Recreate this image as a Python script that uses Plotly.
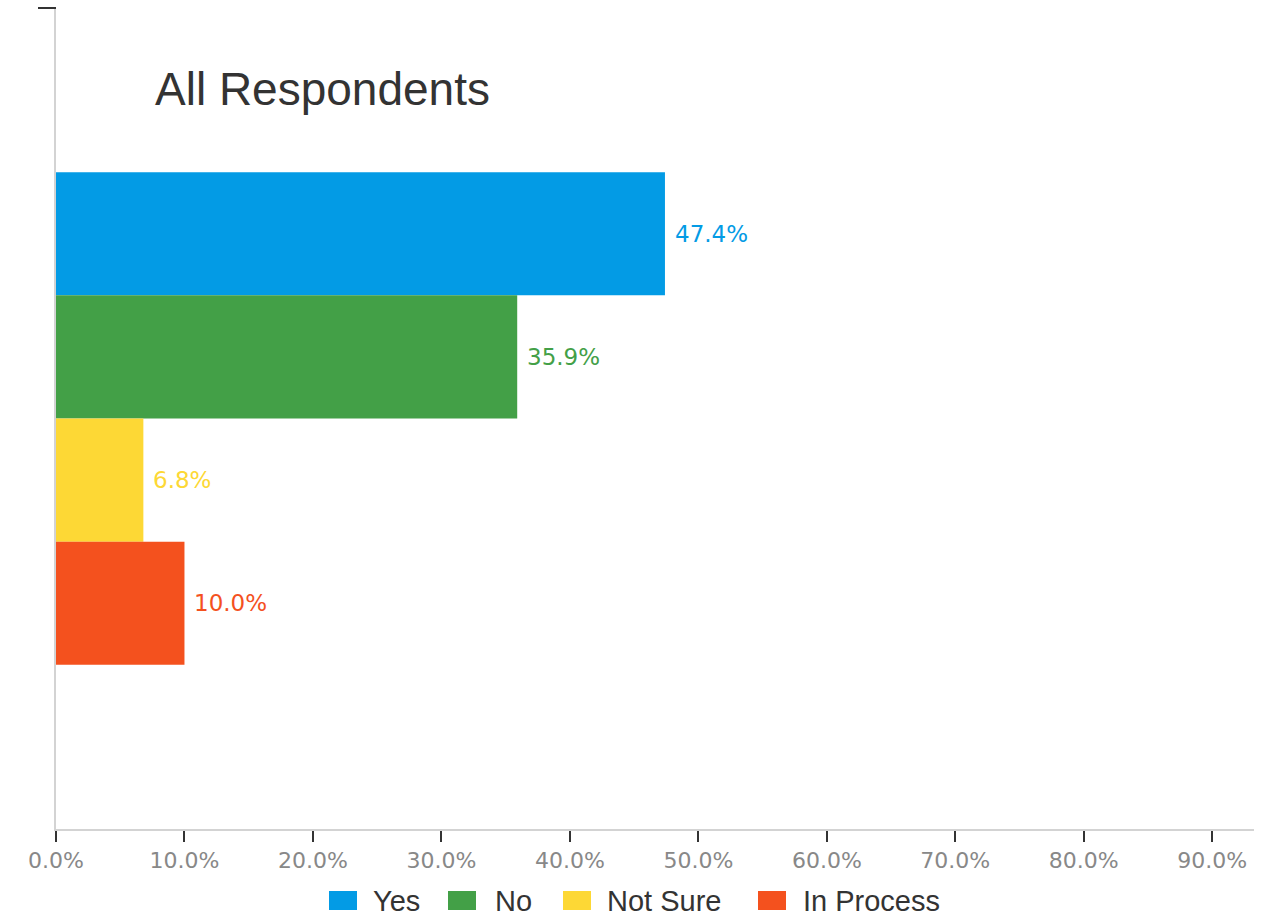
import plotly.graph_objects as go

# Survey answers, one grouped category
group = ["All Respondents"]
answers = ["Yes", "No", "Not Sure", "In Process"]
shares = [47.4, 35.9, 6.8, 10.0]
colors = ["#039BE5", "#43A047", "#FDD835", "#F4511E"]
tick_values = [0, 10, 20, 30, 40, 50, 60, 70, 80, 90]
tick_labels = [f"{v:.1f}%" for v in tick_values]

W, H = 1279, 916
L, R, T, B = 56, 25, 8, 87
PW, PH = W - L - R, H - T - B


def px_x(px):
    return (px - L) / PW


def px_y(py):
    return (H - B - py) / PH


fig = go.Figure()
for name, val, col in zip(answers, shares, colors):
    fig.add_trace(go.Bar(
        y=group, x=[val], name=name, orientation="h",
        marker=dict(color=col, line=dict(width=0)),
        showlegend=False, hoverinfo="x+name",
    ))

# value labels next to each bar end
bargap = 0.4
n = len(answers)
bw = (1 - bargap) / n
for i, (val, col) in enumerate(zip(shares, colors)):
    yoff = -(1 - bargap) / 2 + bw * (i + 0.5)
    fig.add_annotation(
        x=val, y=yoff, xref="x", yref="y", text=f"{val:.1f}%",
        showarrow=False, xanchor="left", yanchor="middle", xshift=8,
        font=dict(family="DejaVu Sans", size=23, color=col),
    )

# chart heading
fig.add_annotation(
    x=px_x(153), y=px_y(89), xref="paper", yref="paper",
    text="All Respondents", showarrow=False, xanchor="left", yanchor="middle",
    font=dict(family="Liberation Sans, Arial", size=46, color="#333333"),
)

# legend row drawn as swatches + labels
legend_sw = [329, 448, 563, 758]
legend_tx = [373, 495, 607, 803]
for name, col, sx, tx in zip(answers, colors, legend_sw, legend_tx):
    fig.add_shape(type="rect", xref="paper", yref="paper",
                  x0=px_x(sx), x1=px_x(sx + 28), y0=px_y(910), y1=px_y(891),
                  fillcolor=col, line=dict(width=0))
    fig.add_annotation(
        x=px_x(tx - 2), y=px_y(901), xref="paper", yref="paper", text=name,
        showarrow=False, xanchor="left", yanchor="middle",
        font=dict(family="Liberation Sans, Arial", size=29, color="#333333"),
    )

# small dark tick at the top of the vertical axis
fig.add_shape(type="line", xref="paper", yref="paper",
              x0=px_x(38), x1=px_x(56), y0=px_y(8), y1=px_y(8),
              line=dict(color="#333333", width=2))

fig.update_layout(
    width=W, height=H,
    margin=dict(l=L, r=R, t=T, b=B),
    paper_bgcolor="white", plot_bgcolor="white",
    barmode="group", bargap=bargap, bargroupgap=0,
    showlegend=False,
    xaxis=dict(
        range=[0, 93.25], tickvals=tick_values, ticktext=tick_labels,
        showgrid=False, zeroline=False,
        showline=True, linecolor="#d3d3d3", linewidth=2,
        ticks="outside", ticklen=11, tickwidth=2, tickcolor="#333333",
        tickfont=dict(family="DejaVu Sans", size=22, color="#888888"),
        fixedrange=True,
    ),
    yaxis=dict(
        autorange="reversed", showticklabels=False, ticks="",
        showgrid=False, zeroline=False,
        showline=True, linecolor="#d3d3d3", linewidth=2,
        fixedrange=True,
    ),
)

fig.write_html("out.html")
